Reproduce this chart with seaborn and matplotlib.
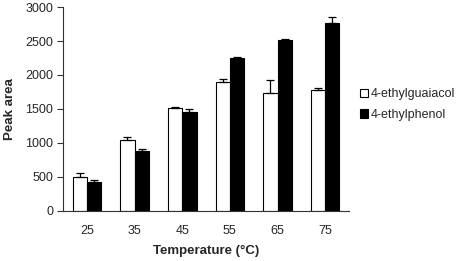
import matplotlib
matplotlib.use("Agg")
import matplotlib.pyplot as plt
import seaborn as sns
import pandas as pd
import numpy as np

temps = ["25", "35", "45", "55", "65", "75"]
guaiacol = [500, 1050, 1520, 1890, 1730, 1780]
guaiacol_err = [55, 40, 10, 55, 190, 30]
phenol = [425, 875, 1460, 2255, 2520, 2770]
phenol_err = [25, 30, 40, 5, 8, 85]
series = ["4-ethylguaiacol", "4-ethylphenol"]

sns.set_style("white")
plt.rcParams['font.family'] = ['Liberation Sans', 'DejaVu Sans']

df = pd.DataFrame({
    "Temperature": temps * 2,
    "value": guaiacol + phenol,
    "err": guaiacol_err + phenol_err,
    "series": [series[0]] * 6 + [series[1]] * 6,
})

fig = plt.figure(figsize=(4.71, 2.61), dpi=100)
ax = fig.add_axes([0.134, 0.192, 0.607, 0.781])

sns.barplot(data=df, x="Temperature", y="value", hue="series",
            palette=["white", "black"], edgecolor="black", linewidth=0.8,
            width=0.6, gap=0, errorbar=None, ax=ax, saturation=1)

# error bars (upper only)
for cont, errs, vals in zip(ax.containers, [guaiacol_err, phenol_err], [guaiacol, phenol]):
    xs = [p.get_x() + p.get_width() / 2 for p in cont.patches]
    ax.errorbar(xs, vals, yerr=[np.zeros(len(errs)), errs], fmt="none",
                ecolor="black", elinewidth=0.9, capsize=3.2, capthick=0.9)

ax.set_xlim(-0.5, 5.5)
ax.set_ylim(0, 3000)
ax.set_yticks(range(0, 3001, 500))
ax.set_xticks(np.arange(-0.5, 6.0, 1.0), minor=True)
ax.tick_params(axis="x", which="major", length=0, pad=10, labelsize=9)
ax.tick_params(axis="x", which="minor", length=4, width=0.8, color="#333333", direction="out")
ax.tick_params(axis="y", length=4, width=0.8, color="#333333", direction="out", labelsize=9, pad=3, left=True)

for s in ["top", "right"]:
    ax.spines[s].set_visible(False)
for s in ["left", "bottom"]:
    ax.spines[s].set_color("#333333")
    ax.spines[s].set_linewidth(0.8)

ax.set_xlabel("Temperature (°C)", fontsize=9.5, fontweight="bold", labelpad=6)
ax.set_ylabel("Peak area", fontsize=9.5, fontweight="bold", labelpad=7)

ax.legend(loc="upper left", bbox_to_anchor=(1.02, 0.625), frameon=False,
          fontsize=9, handlelength=0.7, handleheight=0.7, handletextpad=0.2,
          labelspacing=0.7, borderaxespad=0)

fig.savefig("out.png", dpi=100)
